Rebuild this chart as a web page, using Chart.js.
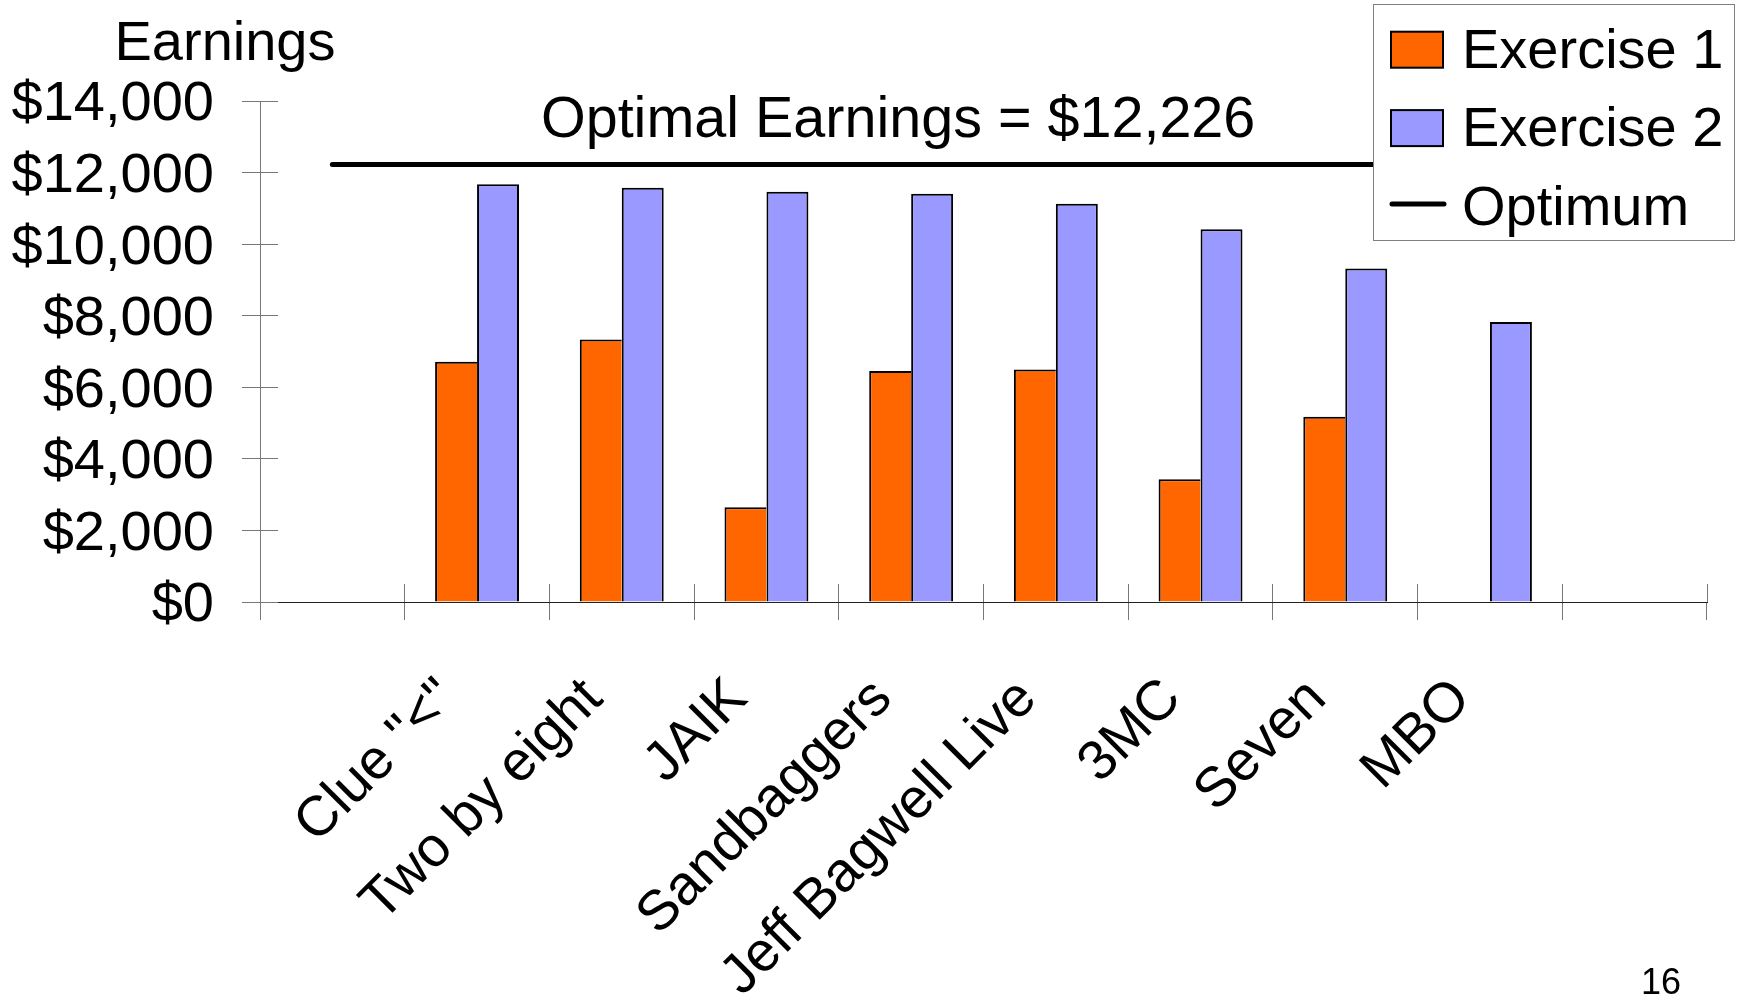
<!DOCTYPE html>
<html><head><meta charset="utf-8">
<script src="https://cdn.jsdelivr.net/npm/chart.js@4.4.1/dist/chart.umd.min.js"></script>
<style>html,body{margin:0;padding:0;background:#fff;overflow:hidden}#wrap{width:1738px;height:995px;position:relative}</style>
</head><body><div id="wrap"><canvas id="c"></canvas></div>
<script>
// ---- data ----
const categories = ['', 'Clue "<"', 'Two by eight', 'JAIK', 'Sandbaggers', 'Jeff Bagwell Live', '3MC', 'Seven', 'MBO', ''];
const exercise1 = [null, 6712, 7338, 2645, 6453, 6500, 3427, 5176, null, null];
const exercise2 = [null, 11676, 11573, 11461, 11405, 11126, 10419, 9321, 7821, null];
const optimum = [12226, 12226, 12226, 12226, 12226, 12226, 12226, 12226, 12226, 12226];
const seriesNames = ['Exercise 1', 'Exercise 2', 'Optimum'];
const yTickValues = [0, 2000, 4000, 6000, 8000, 10000, 12000, 14000];
const yTitle = 'Earnings';
const optimalLabel = 'Optimal Earnings = $12,226';
const pageNumber = '16';

const FONT = '"Liberation Sans", Arial, Helvetica, sans-serif';
Chart.defaults.font.family = FONT;
Chart.defaults.color = '#000';

const crossTicks = {
  id: 'crossTicks',
  beforeDatasetsDraw(chart) {
    const { ctx, chartArea: a, scales: { x, y } } = chart;
    ctx.save();
    ctx.strokeStyle = '#777'; ctx.lineWidth = 1;
    ctx.beginPath();
    y.ticks.forEach((t, i) => {
      const py = Math.round(y.getPixelForTick(i) - 0.5) + 0.5;
      ctx.moveTo(a.left, py); ctx.lineTo(a.left + 18, py);
    });
    for (let i = 0; i <= categories.length; i++) {
      const px = Math.round(x.getPixelForValue(i - 0.5) - 0.5) + 0.5;
      ctx.moveTo(px, a.bottom); ctx.lineTo(px, a.bottom - 18);
    }
    ctx.stroke();
    ctx.restore();
  }
};

const annotations = {
  id: 'annotations',
  afterDatasetsDraw(chart) {
    const { ctx, chartArea: a, scales: { y } } = chart;
    ctx.save();
    ctx.fillStyle = '#000';
    ctx.textAlign = 'center';
    ctx.textBaseline = 'alphabetic';
    ctx.font = '57.5px ' + FONT;
    ctx.fillText(optimalLabel, a.left + 0.441 * (a.right - a.left), y.getPixelForValue(optimum[0]) - 27);
    ctx.font = '56px ' + FONT;
    ctx.fillText(yTitle, a.left - 35, a.top - 41.5);
    ctx.restore();
  },
  afterDraw(chart) {
    const { ctx } = chart;
    const ds = chart.data.datasets;
    ctx.save();
    // legend box
    const bx = 1373.5, by = 4.5, bw = 361, bh = 236;
    ctx.fillStyle = '#fff';
    ctx.fillRect(bx, by, bw, bh);
    ctx.strokeStyle = '#808080'; ctx.lineWidth = 1;
    ctx.strokeRect(bx, by, bw, bh);
    ctx.font = '56px ' + FONT;
    ctx.textAlign = 'left'; ctx.textBaseline = 'alphabetic';
    ds.forEach((d, i) => {
      const base = 67.7 + i * 78.4;
      if (d.type === 'line') {
        ctx.strokeStyle = d.borderColor; ctx.lineWidth = 5; ctx.lineCap = 'round';
        ctx.beginPath(); ctx.moveTo(1392, base - 20.5); ctx.lineTo(1444, base - 20.5); ctx.stroke();
      } else {
        ctx.fillStyle = d.backgroundColor;
        ctx.fillRect(1391, base - 36, 52, 36);
        ctx.strokeStyle = '#000'; ctx.lineWidth = 2;
        ctx.strokeRect(1391, base - 36, 52, 36);
      }
      ctx.fillStyle = '#000';
      ctx.fillText(d.label, 1462, base);
    });
    // page number
    ctx.font = '36px ' + FONT;
    ctx.textAlign = 'right';
    ctx.fillText(pageNumber, 1681, 994);
    ctx.restore();
  }
};

new Chart(document.getElementById('c'), {
  type: 'bar',
  data: {
    labels: categories,
    datasets: [
      { label: seriesNames[0], data: exercise1, backgroundColor: '#FF6600', borderColor: '#000',
        borderWidth: { left: 2, top: 2, right: 0, bottom: 0 }, borderSkipped: false,
        categoryPercentage: 0.58, barPercentage: 1.0, order: 2 },
      { label: seriesNames[1], data: exercise2, backgroundColor: '#9999FF', borderColor: '#000',
        borderWidth: { left: 2, top: 2, right: 2, bottom: 0 }, borderSkipped: false,
        categoryPercentage: 0.58, barPercentage: 1.0, order: 2 },
      { type: 'line', label: seriesNames[2], data: optimum, borderColor: '#000', backgroundColor: '#000',
        borderWidth: 5, pointRadius: 0, borderCapStyle: 'round', fill: false, order: 1 }
    ]
  },
  options: {
    responsive: true, maintainAspectRatio: false, animation: false,
    devicePixelRatio: 1,
    layout: { padding: { left: 0, right: 31, top: 101, bottom: 0 } },
    plugins: { legend: { display: false }, tooltip: { enabled: false }, title: { display: false } },
    scales: {
      x: {
        offset: true,
        grid: { offset: true, drawOnChartArea: false, drawTicks: true, tickLength: 18, color: '#777', lineWidth: 1 },
        border: { display: true, color: '#222', width: 1 },
        ticks: { autoSkip: false, maxRotation: 45, minRotation: 45, padding: 46, labelOffset: -28,
                 font: { size: 56 }, color: '#000' },
        afterFit(scale) { scale.height = 393; scale.paddingLeft = 0; scale.paddingRight = 0; }
      },
      y: {
        min: 0, max: 14000,
        afterBuildTicks(scale) { scale.ticks = yTickValues.map(v => ({ value: v })); },
        grid: { drawOnChartArea: false, drawTicks: true, tickLength: 18, color: '#777', lineWidth: 1 },
        border: { display: true, color: '#777', width: 1 },
        ticks: { padding: 28, labelOffset: 4, font: { size: 56 }, color: '#000',
                 callback: v => '$' + Number(v).toLocaleString('en-US') },
        afterFit(scale) { scale.width = 260; scale.paddingTop = 0; scale.paddingBottom = 0; }
      }
    }
  },
  plugins: [crossTicks, annotations]
});
</script>
</body></html>
